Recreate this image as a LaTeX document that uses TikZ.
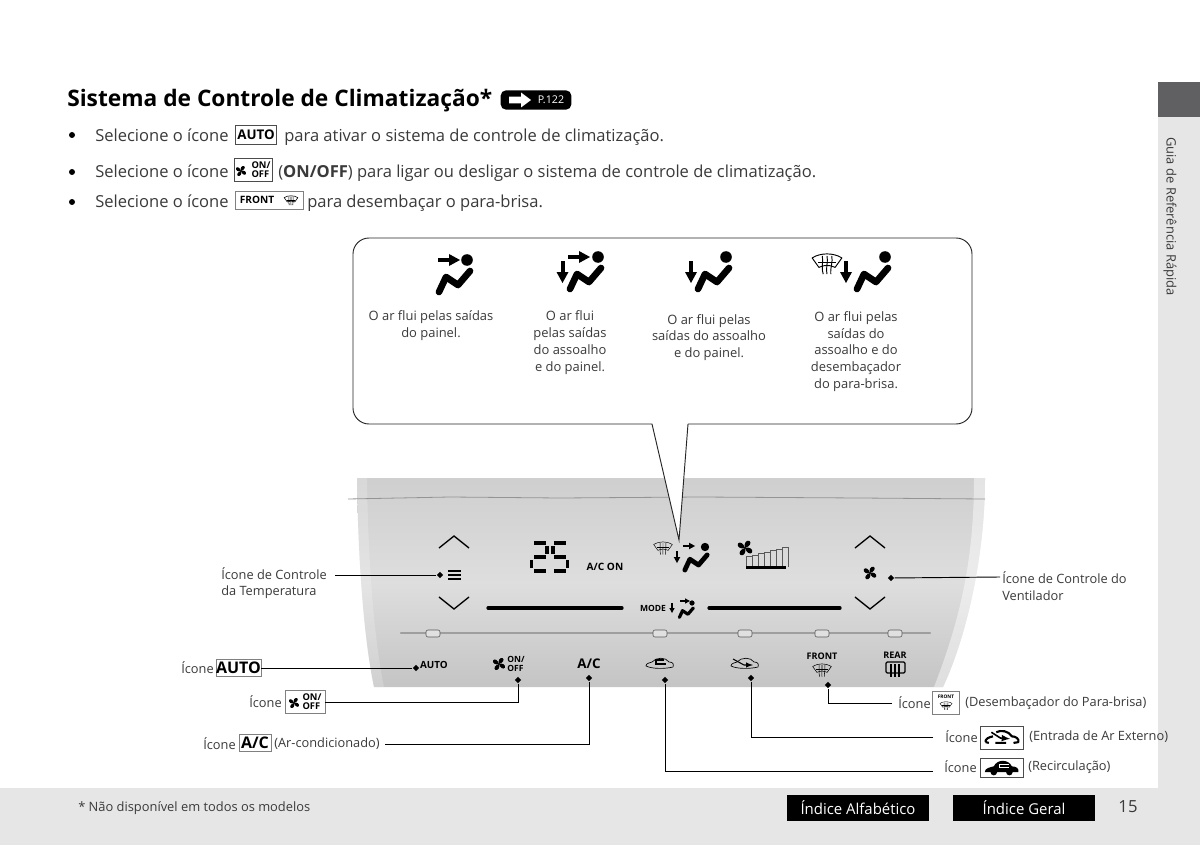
\documentclass[tikz,border=0pt]{standalone}
\usepackage{fontspec}
\setmainfont{Open Sans}
\usetikzlibrary{shapes.geometric,calc}
\definecolor{txt}{HTML}{3A3A3A}
\definecolor{bandgray}{HTML}{E6E6E7}
\definecolor{tabgray}{HTML}{606062}
\tikzset{
  x=0.75pt,y=-0.75pt,
  body/.style={inner sep=0,anchor=base west,text=txt,font=\fontsize{12.4}{15}\selectfont},
  small/.style={inner sep=0,text=txt,font=\fontsize{9.7}{12.6}\selectfont,align=center},
  lab/.style={inner sep=0,text=txt,font=\fontsize{9.6}{12.6}\selectfont,align=left},
  leader/.style={draw=black,line width=0.7pt},
  dotm/.style={diamond,fill=black,inner sep=0,minimum size=5pt},
  iconbox/.style={draw=black!70,line width=0.5pt,fill=white,inner sep=0},
  blackbtn/.style={fill=black,text=white,inner sep=0,minimum width=107pt,minimum height=19.5pt,font=\fontsize{11.2}{13}\selectfont},
  pics/person/.style={code={
    \fill (0,0) circle (5.8);
    \draw[line width=#1,line cap=round,line join=round] (3,11) -- (-9,25) -- (-21,17) -- (-28,32);
  }},
  pics/person/.default=5pt,
  pics/rarrow/.style={code={
    \fill (-11,-2.2) rectangle (2,2.2);
    \fill (0,-6) -- (11,0) -- (0,6) -- cycle;
  }},
  pics/fatarrow/.style={code={
    \fill (-11,-3.4) -- (1,-3.4) -- (1,-7.5) -- (11,0) -- (1,7.5) -- (1,3.4) -- (-11,3.4) -- cycle;
  }},
  pics/darrow/.style={code={
    \fill (-2,-11) rectangle (2,2);
    \fill (-6,0) -- (0,11) -- (6,0) -- cycle;
  }},
  pics/fan/.style={code={
    \foreach \a in {45,135,225,315}
      \fill[rotate=\a] (0,0) .. controls (3,-7) and (12,-9) .. (14,-3) .. controls (15,2) and (7,4) .. (0,0) -- cycle;
  }},
  pics/defrost/.style={code={
    \draw[line width=#1,line join=round] (-11,-3) .. controls (-5,-7) and (5,-7) .. (11,-3) -- (6,4) .. controls (2,2) and (-2,2) .. (-6,4) -- cycle;
    \foreach \d in {-3.5,0,3.5}
      \draw[line width=#1] (\d,-4.5) .. controls (\d+1,0) and (\d-1,3) .. (\d*0.8,9);
    \draw[line width=#1] (-6.5,0.5) -- (6.5,0.5);
  }},
  pics/defrost/.default=0.7pt,
  pics/caroutline/.style={code={
    \draw[line width=0.5pt,line join=round] (-14,3) .. controls (-14,0) and (-10,0) .. (-8,-1) .. controls (-4,-6) and (6,-6) .. (9,-1) .. controls (13,-1) and (14,1) .. (13,4) .. controls (5,6) and (-8,6) .. (-14,3) -- cycle;
  }},
  pics/carsolid/.style={code={
    \fill (-21,5) .. controls (-21,0) and (-14,-1) .. (-10,-2) .. controls (-6,-11) and (8,-11) .. (12,-2) .. controls (18,-2) and (21,1) .. (20,5) -- (13,5) arc (0:180:4) -- (-6,5) arc (0:180:4) -- cycle;
    \draw[white,line width=1pt] (8,-4) -- (-3,-4) -- (-3,-1) -- (9,-1);
  }},
  pics/carout/.style={code={
    \draw[line width=1.6pt,line join=round] (-20,5) .. controls (-21,1) and (-16,-1) .. (-11,-2) (-7,-7) .. controls (-2,-10) and (8,-9) .. (12,-2) .. controls (17,-2) and (21,1) .. (20,5) -- (14,6) (5,6) -- (-8,6) (-16,6) -- (-20,5);
    \draw[line width=1.2pt,-latex] (-13,-7) -- (-2,0) -- (10,1);
  }},
}
\begin{document}
\begin{tikzpicture}
\useasboundingbox (0,0) rectangle (1200,845);
\fill[white] (0,0) rectangle (1200,845);
% page bands
\fill[bandgray] (1158,82) rectangle (1200,845);
\fill[bandgray] (0,788) rectangle (1200,845);
\fill[tabgray] (1158,82) rectangle (1200,117);
\node[rotate=-90,inner sep=0,text=txt,font=\fontsize{9.7}{11}\selectfont] (sidetab) at (1170,216.5) {Guia de Referência Rápida};
% title
\node[inner sep=0,anchor=base west,text=black,font=\bfseries\fontsize{17.05}{20}\selectfont] (title) at (67,106.5) {Sistema de Controle de Climatização*};
\node[fill=black,rounded corners=4pt,inner sep=0,minimum width=53pt,minimum height=14.5pt] (pref) at (536,100) {};
\node[inner sep=0,text=white,font=\fontsize{8}{10}\selectfont] (preftext) at (551,100) {P.122};
\pic[white] at (520,100) {fatarrow};
% bullets
\foreach \yy in {135,172,202} \fill[black] (72,\yy) circle (3);
\node[body] (b1a) at (95,141.5) {Selecione o ícone};
\node[iconbox,minimum width=31pt,minimum height=14pt,font=\bfseries\fontsize{10}{12}\selectfont] (b1i) at (256,135) {AUTO};
\node[body] (b1b) at (284,141.5) {para ativar o sistema de controle de climatização.};
\node[body] (b2a) at (95,177.5) {Selecione o ícone};
\node[iconbox,minimum width=28.5pt,minimum height=17.5pt] (b2i) at (253,170) {};
\pic[scale=0.4] at (241,171) {fan};
\node[inner sep=0,font=\bfseries\fontsize{7}{7.4}\selectfont,align=left] at (261,170) {ON/\\[-0.5pt]OFF};
\node[body] (b2b) at (278,177.5) {(\textbf{ON/OFF}) para ligar ou desligar o sistema de controle de climatização.};
\node[body] (b3a) at (95,208) {Selecione o ícone};
\node[iconbox,draw=black!50,minimum width=51pt,minimum height=13.5pt] (b3i) at (269,200) {};
\node[inner sep=0,font=\bfseries\fontsize{7.6}{9}\selectfont] at (257,200) {FRONT};
\pic[scale=0.62] at (291,199.5) {defrost=0.45pt};
\node[body] (b3b) at (307,208) {para desembaçar o para-brisa.};
% panel
\shade[top color=black!19,bottom color=black!23,middle color=black!13]
  (357,478) -- (985,478) .. controls (985,560) and (965,640) .. (943,687) -- (374,687) .. controls (364,640) and (358,560) .. (357,478) -- cycle;
\fill[white,opacity=0.45] (974,478) -- (985,478) .. controls (985,560) and (965,640) .. (943,687) -- (934,687) .. controls (960,620) and (974,560) .. (974,478) -- cycle;
\fill[white,opacity=0.2] (357,478) -- (367,478) .. controls (368,560) and (374,640) .. (384,687) -- (374,687) .. controls (364,640) and (358,560) .. (357,478) -- cycle;
\draw[black!42,line width=0.6pt] (348,499) -- (450,497) -- (560,498) -- (700,497) -- (860,498) -- (985,499);
\draw[black!38,line width=1.6pt,line cap=round] (401,633) -- (930,633);
\foreach \xx in {433,660,745,822,895}
  \draw[black!65,fill=black!12,line width=0.45pt,rounded corners=1.5pt] (\xx-7,630) rectangle (\xx+7,637);
% panel content
\draw[line width=1pt] (439,548) -- (454,536) -- (469,548);
\draw[line width=1pt] (439,597) -- (454,609) -- (469,597);
\draw[line width=1pt] (855,548) -- (870,536) -- (885,548);
\draw[line width=1pt] (855,597) -- (870,609) -- (885,597);
\foreach \yy in {571,575,579} \draw[line width=0.9pt] (448,\yy) -- (461,\yy);
\pic[scale=0.5] at (870,573) {fan};
\draw[black,line width=2.4pt,line cap=round] (488,608) -- (622,608);
\draw[black,line width=2.4pt,line cap=round] (709,608) -- (840,608);
% 25 display
\begin{scope}[line width=2.7pt]
\draw (534,543) -- (546,543) (547,546) -- (547,554) (534,557) -- (546,557) (531.5,560) -- (531.5,568) (534,571) -- (546,571);
\draw (554,543) -- (566,543) (553,546) -- (553,554) (554,557) -- (566,557) (567.5,560) -- (567.5,568) (554,571) -- (566,571);
\end{scope}
\node[inner sep=0,font=\bfseries\fontsize{7.6}{9}\selectfont] (acon) at (605,567) {A/C ON};
\node[inner sep=0,font=\bfseries\fontsize{6.4}{8}\selectfont] (mode) at (653,608) {MODE};
% mode icons
\pic[scale=0.72] at (705,547) {person=3.6pt};
\pic[scale=0.55] at (689,546) {rarrow};
\pic[scale=0.55] at (677,557) {darrow};
\pic[scale=0.85] at (663,547) {defrost=0.35pt};
\pic[scale=0.45] at (692,603) {person=2.4pt};
\pic[scale=0.45] at (685,601) {rarrow};
\pic[scale=0.45] at (672,608) {darrow};
% fan bars
\pic[scale=0.58] at (745,548) {fan};
\foreach \xx/\tt in {746/556,752/555,758/553,764/552,770/550,776/549,782/547}
  \draw[black!65,line width=0.4pt] (\xx,567) -- (\xx,\tt) -- (\xx+6,\tt) -- (\xx+6,567);
\fill (746,566) rectangle (786,569);
% bottom row icons
\node[inner sep=0,font=\bfseries\fontsize{7.4}{9}\selectfont] (autot) at (434,665) {AUTO};
\pic[scale=0.48] at (499,664) {fan};
\node[inner sep=0,font=\bfseries\fontsize{6.4}{6.8}\selectfont,align=left] (onoff) at (516,664) {ON/\\[-0.5pt]OFF};
\node[inner sep=0,font=\bfseries\fontsize{10}{12}\selectfont] (act) at (589,664) {A/C};
\pic at (660,663) {caroutline};
\draw[line width=1.2pt] (664,660) -- (656,660) -- (656,664) -- (666,664);
\pic at (745,663) {caroutline};
\draw[line width=0.8pt,-latex] (733,659) -- (744,665) -- (753,665);
\node[inner sep=0,font=\bfseries\fontsize{6.8}{8}\selectfont] (frontt) at (822,656) {FRONT};
\pic[scale=0.85] at (822,669) {defrost=0.4pt};
\node[inner sep=0,font=\bfseries\fontsize{6.8}{8}\selectfont] (reart) at (895,655) {REAR};
\draw[line width=0.9pt,rounded corners=1pt] (886,673) -- (886,662) -- (905,662) -- (905,673) -- cycle;
\foreach \d in {-4,0,4} \draw[line width=0.8pt] (895+\d,664) -- (895+\d,677);
% dots
\node[dotm] (dtemp) at (440,575) {};
\node[dotm] (dvent) at (891,578) {};
\node[dotm] (dauto) at (416,668) {};
\node[dotm] (donoff) at (518,680) {};
\node[dotm] (dac) at (589,678) {};
\node[dotm] (drec) at (665,680) {};
\node[dotm] (dext) at (751,678) {};
\node[dotm] (dfront) at (828,685) {};
% bubble
\draw[fill=white,line width=0.7pt,draw=black!85,sharp corners]
  (688,424) -- (679,540) -- (652,424) [rounded corners=12pt] -- (353,424) -- (353,238) -- (972,238) -- (972,424) -- (688,424);
% bubble icons
\pic at (467,260) {person};
\pic at (449,260) {rarrow};
\pic at (598,257) {person};
\pic at (579,257) {rarrow};
\pic at (562.5,272) {darrow};
\pic at (726,257) {person};
\pic at (691,272) {darrow};
\pic at (885,257) {person};
\pic at (846,272) {darrow};
\pic[scale=1.35] at (827,262) {defrost=0.7pt};
\node[small] (t1) at (431,325.5) {O ar flui pelas saídas\\do painel.};
\node[small] (t2) at (570,342.5) {O ar flui\\pelas saídas\\do assoalho\\e do painel.};
\node[small] (t3) at (709,337.5) {O ar flui pelas\\saídas do assoalho\\e do painel.};
\node[small] (t4) at (856,351.5) {O ar flui pelas\\saídas do\\assoalho e do\\desembaçador\\do para-brisa.};
% labels left
\node[lab,anchor=west] (ltemp) at (221,583) {Ícone de Controle\\da Temperatura};
\node[lab,anchor=west] (lvent) at (1002,586) {Ícone de Controle do\\Ventilador};
\node[lab,anchor=west] (lauto) at (181,668) {Ícone};
\node[iconbox,draw=black!50,minimum width=33pt,minimum height=12.5pt,font=\bfseries\fontsize{12}{13}\selectfont] (iauto) at (238.5,668) {AUTO};
\node[lab,anchor=west] (lonoff) at (249,702) {Ícone};
\node[iconbox,draw=black!50,minimum width=30pt,minimum height=17pt] (ionoff) at (305,702) {};
\pic[scale=0.4] at (294,703) {fan};
\node[inner sep=0,font=\bfseries\fontsize{7}{7.4}\selectfont,align=left] at (312,702) {ON/\\[-0.5pt]OFF};
\node[lab,anchor=west] (lac) at (203,744) {Ícone};
\node[iconbox,draw=black!50,minimum width=24pt,minimum height=12.5pt,font=\bfseries\fontsize{12}{13}\selectfont] (iac) at (255,743) {A/C};
\node[lab,anchor=west] (lac2) at (274,744) {(Ar-condicionado)};
\node[lab,anchor=west] (lfront) at (898,703) {Ícone};
\node[iconbox,draw=black!50,minimum width=20pt,minimum height=17.5pt] (ifront) at (946,703) {};
\node[inner sep=0,font=\bfseries\fontsize{3.6}{4}\selectfont] at (946,697) {FRONT};
\pic[scale=0.55] at (946,705) {defrost=0.3pt};
\node[lab,anchor=west] (lfront2) at (965,703) {(Desembaçador do Para-brisa)};
\node[lab,anchor=west] (lext) at (945,737) {Ícone};
\node[iconbox,minimum width=32pt,minimum height=17.5pt] (iext) at (1002,738) {};
\pic[scale=0.82] at (1002,738) {carout};
\node[lab,anchor=west] (lext2) at (1029,737) {(Entrada de Ar Externo)};
\node[lab,anchor=west] (lrec) at (944,767) {Ícone};
\node[iconbox,minimum width=32pt,minimum height=14pt] (irec) at (1002,768) {};
\pic[scale=0.82] at (1002,768) {carsolid};
\node[lab,anchor=west] (lrec2) at (1028,767) {(Recirculação)};
% leaders
\coordinate (ctemp) at (335,575);
\coordinate (cvent) at (1000,577);
\coordinate (cfront) at (892,703);
\coordinate (cext) at (933,737);
\coordinate (crec) at (933,771);
\coordinate (cac) at (385,744);
\draw[leader] (ctemp) -- (dtemp);
\draw[leader] (cvent) -- (dvent);
\draw[leader] (iauto) -- (dauto);
\draw[leader] (ionoff) -| (donoff);
\draw[leader] (cac) -| (dac);
\draw[leader] (crec) -| (drec);
\draw[leader] (cext) -| (dext);
\draw[leader] (cfront) -| (dfront);
% footer
\node[inner sep=0,anchor=west,text=txt,font=\fontsize{9.65}{11}\selectfont] (foot) at (78,808) {* Não disponível em todos os modelos};
\node[blackbtn] (alpha) at (858,808) {Índice Alfabético};
\node[blackbtn] (geral) at (1024,808) {Índice Geral};
\node[inner sep=0,text=txt,font=\fontsize{12.5}{15}\selectfont] (pg) at (1128,807) {15};
\end{tikzpicture}
\end{document}
